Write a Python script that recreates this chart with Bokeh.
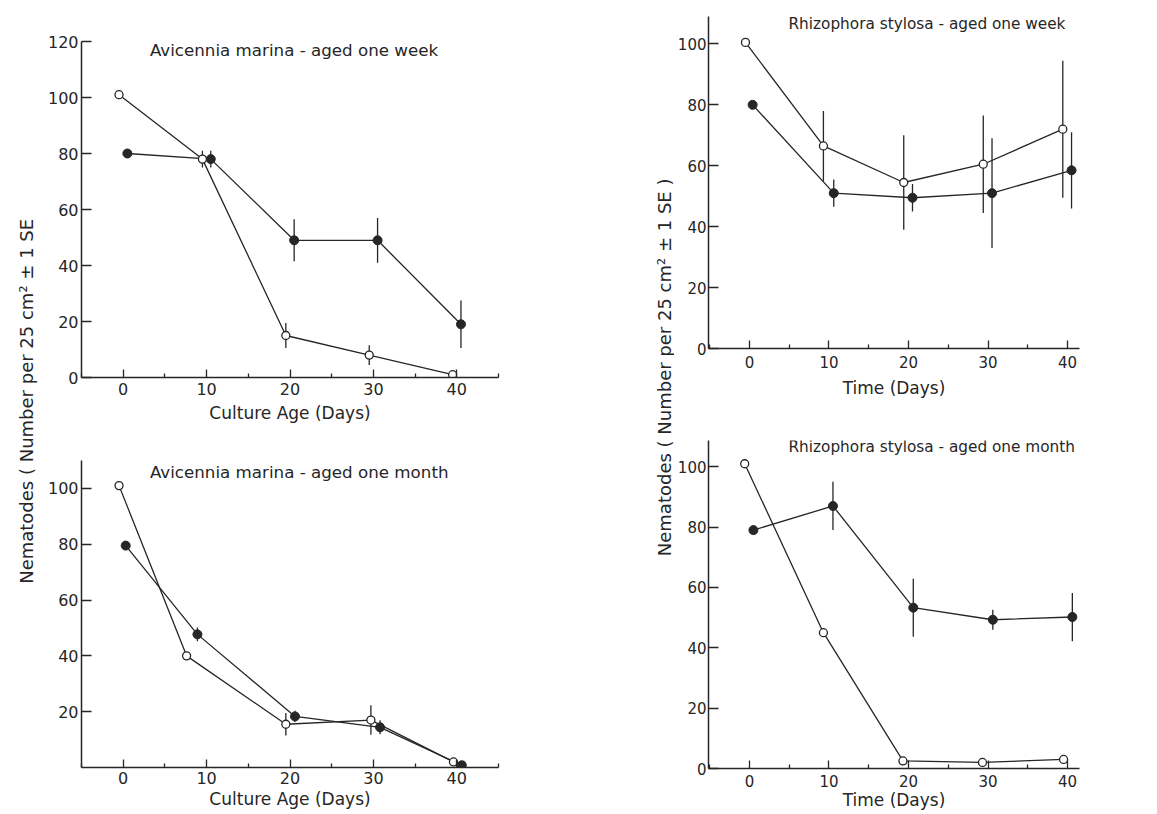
from bokeh.plotting import figure
from bokeh.layouts import row, column
from bokeh.models import Range1d, FixedTicker, Label
from bokeh.embed import file_html
from bokeh.resources import INLINE

# ---------------- data ----------------
# Panel A: Avicennia marina - aged one week
a_open_x = [-0.5, 9.5, 19.5, 29.5, 39.5]
a_open_y = [101, 78, 15, 8, 1]
a_open_e = [0, 3, 4.5, 3.5, 0]
a_fill_x = [0.5, 10.5, 20.5, 30.5, 40.5]
a_fill_y = [80, 78, 49, 49, 19]
a_fill_e = [0, 3, 7.5, 8, 8.5]

# Panel B: Avicennia marina - aged one month
b_open_x = [-0.5, 7.6, 19.5, 29.7, 39.6]
b_open_y = [101, 40, 15.5, 17, 2]
b_open_e = [0, 0, 4, 5.3, 0]
b_fill_x = [0.3, 8.9, 20.6, 30.8, 40.6]
b_fill_y = [79.5, 47.7, 18.3, 14.4, 0.8]
b_fill_e = [0, 2.5, 2, 2.5, 0]

# Panel C: Rhizophora stylosa - aged one week
c_open_x = [-0.5, 9.3, 19.4, 29.4, 39.4]
c_open_y = [100.5, 66.5, 54.5, 60.5, 72]
c_open_e = [0, 11.5, 15.5, 16, 22.5]
c_fill_x = [0.4, 10.6, 20.5, 30.5, 40.5]
c_fill_y = [80, 51, 49.5, 51, 58.5]
c_fill_e = [0, 4.5, 4.5, 18, 12.5]

# Panel D: Rhizophora stylosa - aged one month
d_open_x = [-0.6, 9.3, 19.3, 29.3, 39.5]
d_open_y = [101, 45, 2.5, 2, 3]
d_open_e = [0, 0, 0, 1.5, 0]
d_fill_x = [0.5, 10.5, 20.6, 30.6, 40.6]
d_fill_y = [79, 87, 53.3, 49.3, 50.2]
d_fill_e = [0, 8, 9.6, 3.3, 8]

x_ticks = [0, 10, 20, 30, 40]
x_minor = [-5, 5, 15, 25, 35, 45]
a_y_ticks = [0, 20, 40, 60, 80, 100, 120]
b_y_ticks = [20, 40, 60, 80, 100]
cd_y_ticks = [0, 20, 40, 60, 80, 100]

titles = ["Avicennia marina - aged one week", "Avicennia marina - aged one month",
          "Rhizophora stylosa - aged one week", "Rhizophora stylosa - aged one month"]
xlabels = ["Culture Age (Days)", "Culture Age (Days)", "Time (Days)", "Time (Days)"]
ylabel_left = "Nematodes  ( Number per 25 cm\u00b2 \u00b1 1 SE"
ylabel_right = "Nematodes  ( Number per 25 cm\u00b2 \u00b1 1 SE )"

INK = "#262626"
FONT = "DejaVu Sans"


def panel(width, height, xr, yr, yticks, mb, xlabel, title, tpos, tsize,
          ox, oy, oe, fx, fy, fe, tick_size="16px", xstand=(5, 5), ystand=3):
    p = figure(width=width, height=height, x_range=Range1d(*xr), y_range=Range1d(*yr),
               output_backend="svg", toolbar_location=None,
               min_border_left=mb[0], min_border_right=mb[1],
               min_border_top=mb[2], min_border_bottom=mb[3])
    p.grid.visible = False
    p.outline_line_color = None
    p.background_fill_color = "white"
    p.border_fill_color = "white"

    ax = p.xaxis[0]
    ax.ticker = FixedTicker(ticks=x_ticks, minor_ticks=x_minor)
    ax.axis_label = xlabel
    ax.axis_label_text_font = FONT
    ax.axis_label_text_font_style = "normal"
    ax.axis_label_text_font_size = "17px"
    ax.axis_label_text_color = INK
    ax.axis_label_standoff = xstand[1]
    ax.major_label_text_font = FONT
    ax.major_label_text_font_size = tick_size
    ax.major_label_text_color = INK
    ax.major_label_standoff = xstand[0]
    ax.major_tick_in = 8
    ax.major_tick_out = 0
    ax.minor_tick_in = 4
    ax.minor_tick_out = 0
    ax.axis_line_width = 1.5
    ax.axis_line_color = INK
    ax.major_tick_line_color = INK
    ax.major_tick_line_width = 1.3
    ax.minor_tick_line_color = INK
    ax.minor_tick_line_width = 1.3

    ay = p.yaxis[0]
    ay.ticker = FixedTicker(ticks=yticks)
    ay.major_label_text_font = FONT
    ay.major_label_text_font_size = tick_size
    ay.major_label_text_color = INK
    ay.major_label_standoff = ystand
    ay.major_tick_in = 10
    ay.major_tick_out = 0
    ay.minor_tick_line_color = None
    ay.axis_line_width = 1.5
    ay.axis_line_color = INK
    ay.major_tick_line_color = INK
    ay.major_tick_line_width = 1.3

    # lines
    p.line(ox, oy, line_color=INK, line_width=1.3)
    p.line(fx, fy, line_color=INK, line_width=1.3)
    # error bars
    for xs, ys, es in ((ox, oy, oe), (fx, fy, fe)):
        sx = [x for x, e in zip(xs, es) if e > 0]
        y0 = [y - e for y, e in zip(ys, es) if e > 0]
        y1 = [y + e for y, e in zip(ys, es) if e > 0]
        if sx:
            p.segment(x0=sx, y0=y0, x1=sx, y1=y1, line_color=INK, line_width=1.3)
    # markers
    p.scatter(fx, fy, size=9, marker="circle", fill_color=INK, line_color=INK, line_width=1)
    p.scatter(ox, oy, size=8, marker="circle", fill_color="white", line_color=INK, line_width=1.3)

    p.add_layout(Label(x=tpos[0], y=tpos[1], text=title, text_font=FONT,
                       text_font_size=tsize, text_color=INK,
                       text_align="left", text_baseline="middle"))
    return p


TOP_H = 425
BOT_H = 388
TOTAL_H = TOP_H + BOT_H

pA = panel(516, TOP_H, (-5, 45), (0, 120), a_y_ticks, (37, 62, 41, 48), xlabels[0],
           titles[0], (3.2, 116.8), "16.7px",
           a_open_x, a_open_y, a_open_e, a_fill_x, a_fill_y, a_fill_e,
           xstand=(5, 5))
pB = panel(516, BOT_H, (-5, 45), (0, 110), b_y_ticks, (37, 62, 35, 46), xlabels[1],
           titles[1], (3.2, 106), "16.7px",
           b_open_x, b_open_y, b_open_e, b_fill_x, b_fill_y, b_fill_e,
           xstand=(4, 2))
pC = panel(482, TOP_H, (-5.15, 41.5), (0, 109), cd_y_ticks, (34, 77, 16, 77), xlabels[2],
           titles[2], (4.9, 106.7), "15.3px",
           c_open_x, c_open_y, c_open_e, c_fill_x, c_fill_y, c_fill_e,
           tick_size="15px", xstand=(7, 7), ystand=2)
pD = panel(482, BOT_H, (-5.15, 41.5), (0, 108.7), cd_y_ticks, (34, 77, 15, 45), xlabels[3],
           titles[3], (4.9, 106.7), "15.3px",
           d_open_x, d_open_y, d_open_e, d_fill_x, d_fill_y, d_fill_e,
           tick_size="15px", xstand=(6, 0), ystand=2)


def label_fig(width, text, lx, ly):
    f = figure(width=width, height=TOTAL_H, x_range=Range1d(0, width), y_range=Range1d(0, TOTAL_H),
               output_backend="svg", toolbar_location=None, min_border=0,
               x_axis_location=None, y_axis_location=None)
    f.outline_line_color = None
    f.grid.visible = False
    f.add_layout(Label(x=lx, y=ly, text=text, angle=90, angle_units="deg",
                       text_align="center", text_baseline="middle",
                       text_font=FONT, text_font_size="18px", text_color=INK))
    return f


lblL = label_fig(44, ylabel_left, 26, TOTAL_H - 398)
lblR = label_fig(114, ylabel_right, 104, TOTAL_H - 364)

layout = row(lblL, column(pA, pB), lblR, column(pC, pD))

open("out.html", "w").write(file_html(layout, INLINE))
